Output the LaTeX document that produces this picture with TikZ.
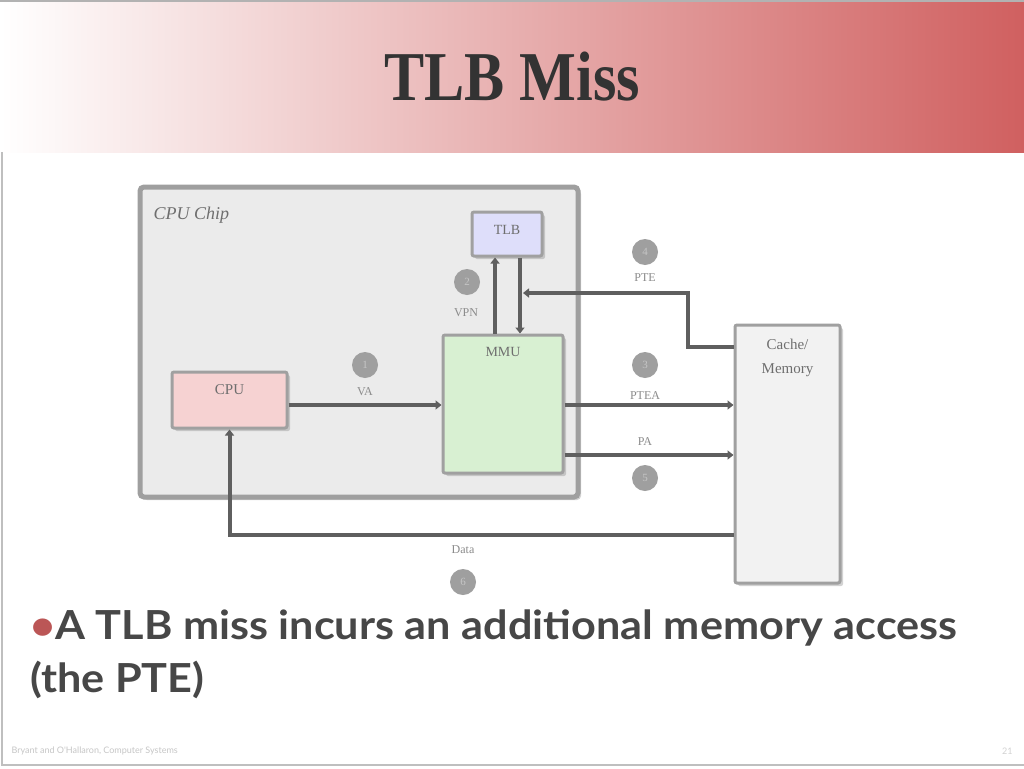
\documentclass[tikz,border=0pt]{standalone}
\usepackage{fontspec}
\setmainfont{Liberation Serif}
\newfontfamily\bodyfont{Lato}
\usetikzlibrary{arrows.meta,shadows,calc}
\definecolor{hdrred}{RGB}{208,96,96}
\definecolor{linegray}{RGB}{95,95,95}
\definecolor{chipfill}{RGB}{235,235,235}
\definecolor{boxborder}{RGB}{160,160,160}
\definecolor{tlbfill}{RGB}{222,222,250}
\definecolor{mmufill}{RGB}{216,240,210}
\definecolor{cpufill}{RGB}{246,210,210}
\definecolor{memfill}{RGB}{242,242,242}
\definecolor{txtgray}{RGB}{110,110,110}
\tikzset{
  unitbox/.style={draw=boxborder, line width=3pt, rounded corners=2pt, inner sep=0pt,
    drop shadow={shadow xshift=3pt, shadow yshift=-3pt, opacity=0.35}},
  conn/.style={draw=linegray, line width=4pt, -{Triangle[length=6pt,width=9pt]}},
  stepnum/.style={circle, fill=gray!75, minimum size=26pt, inner sep=0pt,
    text=gray!45, font=\fontsize{11}{11}\selectfont},
  lbl/.style={text=txtgray!80, font=\fontsize{12}{12}\selectfont, inner sep=1pt},
  boxlbl/.style={text=txtgray, font=\fontsize{15}{15}\selectfont, inner sep=0pt},
  bodyline/.style={anchor=west, inner sep=0pt, text=black!72, font=\bodyfont\bfseries\fontsize{40}{48}\selectfont}
}
\begin{document}
\begin{tikzpicture}[x=1pt,y=-1pt]
\useasboundingbox (0,0) rectangle (1024,768);
\fill[white] (0,0) rectangle (1024,768);
% header
\shade[left color=white, right color=hdrred] (0,0) rectangle (1024,152);
\draw[gray!60, line width=2pt] (0,1) -- (1024,1);
\node (title) at (512,77) {\scalebox{0.86}[1]{\fontsize{70}{70}\selectfont\bfseries\color{black!80}TLB Miss}};
% slide frame
\draw[gray!50, line width=2pt] (2,152) -- (2,765) -- (1024,765);
% chip
\node[unitbox, draw=gray!75, line width=5pt, fill=chipfill, rounded corners=4pt,
  minimum width=438pt, minimum height=310pt] (chip) at (359,342) {};
\node[anchor=west, text=txtgray, font=\itshape\fontsize{18}{18}\selectfont] (chiplbl) at (150,215) {CPU Chip};
% units
\node[unitbox, fill=tlbfill, minimum width=70pt, minimum height=44pt] (tlb) at (507,234) {};
\node[boxlbl, font=\fontsize{14}{14}\selectfont] (tlblbl) at (507,230) {TLB};
\node[unitbox, fill=mmufill, minimum width=120pt, minimum height=138pt] (mmu) at (503,404) {};
\node[boxlbl, font=\fontsize{14}{14}\selectfont] (mmulbl) at (503,352) {MMU};
\node[unitbox, fill=cpufill, minimum width=115pt, minimum height=56pt] (cpu) at (229.5,400) {};
\node[boxlbl] (cpulbl) at (229.5,390) {CPU};
\node[unitbox, fill=memfill, minimum width=105pt, minimum height=258pt] (mem) at (787.5,454) {};
\node[boxlbl] (memlbl1) at (787.5,344) {Cache/};
\node[boxlbl] (memlbl2) at (787.5,370) {Memory};
% helper coordinates
\coordinate (vpnx) at (495,0);
\coordinate (ptex) at (520,0);
\coordinate (ptey) at (0,347);
\coordinate (ptecorner) at (688,293);
\coordinate (pteay) at (0,405);
\coordinate (pay) at (0,455);
\coordinate (datay) at (0,535);
% connectors
\draw[conn] (cpu.east |- pteay) -- (mmu.west |- pteay);
\draw[conn] (mmu.north -| vpnx) -- (tlb.south -| vpnx);
\draw[conn] (tlb.south -| ptex) -- (mmu.north -| ptex);
\draw[conn] (mem.west |- ptey) -| (ptecorner) -- ([xshift=3pt]ptex |- ptecorner);
\draw[conn] (mmu.east |- pteay) -- (mem.west |- pteay);
\draw[conn] (mmu.east |- pay) -- (mem.west |- pay);
\draw[conn] (mem.west |- datay) -| (cpu.south);
% labels
\node[stepnum] (n1) at (365,365) {1};
\node[lbl] (va) at (365,392) {VA};
\node[stepnum] (n2) at (467,282) {2};
\node[lbl] (vpn) at (466,313) {VPN};
\node[stepnum] (n4) at (645,252) {4};
\node[lbl] (pte) at (645,278) {PTE};
\node[stepnum] (n3) at (645,365) {3};
\node[lbl] (ptea) at (645,396) {PTEA};
\node[lbl] (pa) at (645,442) {PA};
\node[stepnum] (n5) at (645,478) {5};
\node[lbl] (data) at (463,550) {Data};
\node[stepnum] (n6) at (463,582) {6};
% bullet text
\node[bodyline] (bullet1) at (30,628)
  {\scalebox{1.08}[1]{{\color{hdrred!90!black}\textbullet}A TLB miss incurs an additional memory access}};
\node[bodyline] (bullet2) at (30,680)
  {\scalebox{1.08}[1]{(the PTE)}};
% footer
\node[anchor=west, text=gray!45, font=\bodyfont\fontsize{9}{9}\selectfont] (foot) at (8,751) {Bryant and O'Hallaron, Computer Systems};
\node[anchor=east, text=gray!35, font=\bodyfont\fontsize{9}{9}\selectfont] (pageno) at (1016,751) {21};
\end{tikzpicture}
\end{document}
